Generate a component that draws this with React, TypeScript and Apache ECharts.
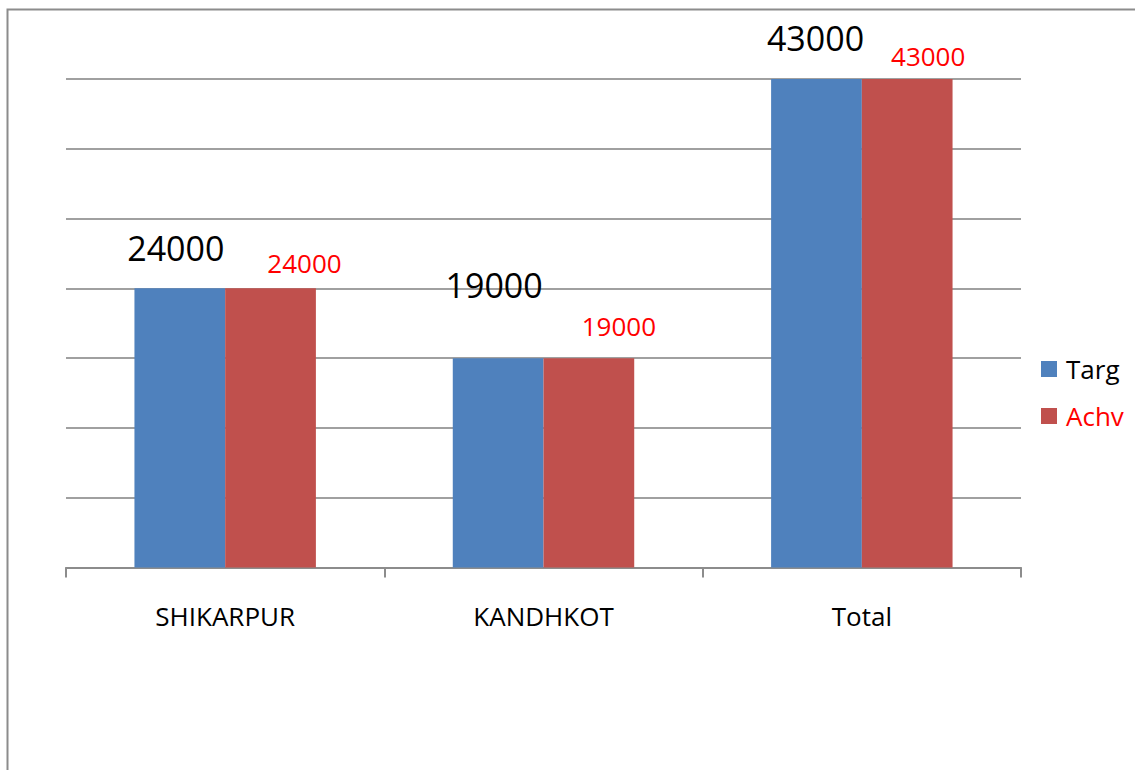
import React, { useEffect, useRef } from "react";
import * as echarts from "echarts";

// Categories and the values shown in the data labels
const categories = ["SHIKARPUR", "KANDHKOT", "Total"];
const targLabels = [24000, 19000, 43000];
const achvLabels = [24000, 19000, 43000];
// Bar heights as drawn in the picture, in gridline units
const targHeights = [4, 3, 7];
const achvHeights = [4, 3, 7];
const seriesNames = ["Targ", "Achv"];

const FONT = "Open Sans";

export default function App() {
  const ref = useRef<HTMLDivElement>(null);
  useEffect(() => {
    if (!ref.current) return;
    const chart = echarts.init(ref.current, null, { renderer: "svg" });
    const targOffsets = [[-4, -40], [-4, -73], [-1, -41]];
    const achvOffsets = [[34, -25], [30, -32], [21, -23]];
    const mk = (heights: number[], labels: number[], offsets: number[][]) =>
      heights.map((h, i) => ({
        value: h,
        label: { offset: offsets[i], formatter: String(labels[i]) },
      }));
    chart.setOption({
      animation: false,
      backgroundColor: "#fff",
      graphic: [
        {
          type: "rect",
          shape: { x: 7.5, y: 9.5, width: 3000, height: 3000 },
          style: { fill: "none", stroke: "#8c8c8c", lineWidth: 2 },
          silent: true,
        },
      ],
      grid: { left: 66, right: 114, top: 79, bottom: 202.5, containLabel: false },
      legend: {
        orient: "vertical",
        left: 1036,
        top: 349,
        itemWidth: 16,
        itemHeight: 16,
        itemGap: 17,
        icon: "rect",
        textStyle: { fontFamily: FONT, fontSize: 26, lineHeight: 30, color: "#000", padding: [0, 0, 0, 4] },
        data: [
          { name: seriesNames[0], textStyle: { color: "#000" } },
          { name: seriesNames[1], textStyle: { color: "#ff0000" } },
        ],
      },
      xAxis: {
        type: "category",
        data: categories,
        axisLine: { lineStyle: { color: "#8c8c8c", width: 2 } },
        axisTick: { show: true, length: 10, lineStyle: { color: "#8c8c8c", width: 2 } },
        axisLabel: { fontFamily: FONT, fontSize: 26, color: "#000", margin: 35 },
      },
      yAxis: {
        type: "value",
        min: 0,
        max: 7,
        interval: 1,
        axisLine: { show: false },
        axisTick: { show: false },
        axisLabel: { show: false },
        splitLine: { lineStyle: { color: "#a0a0a0", width: 2 } },
      },
      series: [
        {
          name: seriesNames[0],
          type: "bar",
          barGap: "0%",
          barCategoryGap: "43%",
          itemStyle: { color: "#4F81BD" },
          label: {
            show: true,
            position: "top",
            distance: 0,
            verticalAlign: "middle",
            fontFamily: FONT,
            fontSize: 34,
            color: "#000",
          },
          data: mk(targHeights, targLabels, targOffsets),
        },
        {
          name: seriesNames[1],
          type: "bar",
          barGap: "0%",
          barCategoryGap: "43%",
          itemStyle: { color: "#C0504D" },
          label: {
            show: true,
            position: "top",
            distance: 0,
            verticalAlign: "middle",
            fontFamily: FONT,
            fontSize: 26,
            color: "#ff0000",
          },
          data: mk(achvHeights, achvLabels, achvOffsets),
        },
      ],
    });
    return () => chart.dispose();
  }, []);
  return (
    <div
      ref={ref}
      style={{ position: "fixed", left: 0, top: 0, width: 1135, height: 770, background: "#fff" }}
    />
  );
}
